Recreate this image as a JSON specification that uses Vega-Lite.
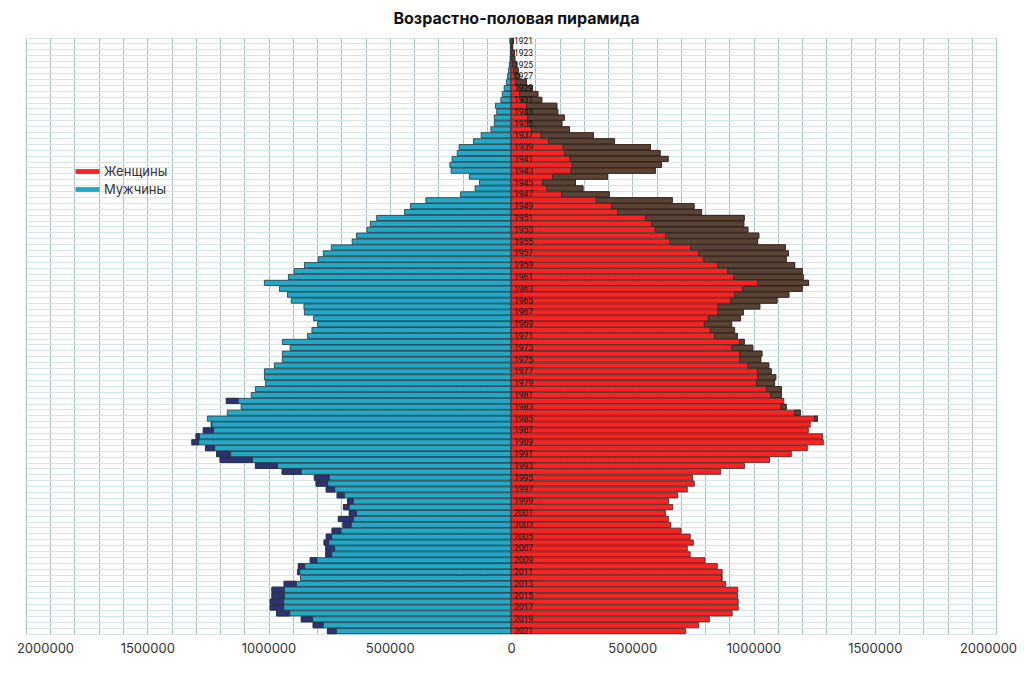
{
  "$schema": "https://vega.github.io/schema/vega-lite/v6.json",
  "background": "white",
  "padding": {"left": 16, "top": 10, "right": 7, "bottom": 20},
  "title": {"text": "Возрастно-половая пирамида", "font": "Inter", "fontSize": 16, "fontWeight": "bold", "color": "#111111", "offset": 10, "anchor": "middle"},
  "data": {
    "values": [
      {"year": 1921, "men": 5000, "women": 10000},
      {"year": 1922, "men": 3000, "women": 7000},
      {"year": 1923, "men": 3000, "women": 14000},
      {"year": 1924, "men": 4000, "women": 16000},
      {"year": 1925, "men": 7000, "women": 24000},
      {"year": 1926, "men": 10000, "women": 30000},
      {"year": 1927, "men": 14000, "women": 36000},
      {"year": 1928, "men": 19000, "women": 64000},
      {"year": 1929, "men": 28000, "women": 88000},
      {"year": 1930, "men": 36000, "women": 111000},
      {"year": 1931, "men": 42000, "women": 127000},
      {"year": 1932, "men": 64000, "women": 189000},
      {"year": 1933, "men": 59000, "women": 193000},
      {"year": 1934, "men": 69000, "women": 220000},
      {"year": 1935, "men": 69000, "women": 210000},
      {"year": 1936, "men": 83000, "women": 241000},
      {"year": 1937, "men": 123000, "women": 340000},
      {"year": 1938, "men": 155000, "women": 427000},
      {"year": 1939, "men": 214000, "women": 575000},
      {"year": 1940, "men": 222000, "women": 615000},
      {"year": 1941, "men": 243000, "women": 648000},
      {"year": 1942, "men": 252000, "women": 620000},
      {"year": 1943, "men": 247000, "women": 595000},
      {"year": 1944, "men": 172000, "women": 398000},
      {"year": 1945, "men": 130000, "women": 266000},
      {"year": 1946, "men": 148000, "women": 297000},
      {"year": 1947, "men": 208000, "women": 405000},
      {"year": 1948, "men": 351000, "women": 665000},
      {"year": 1949, "men": 415000, "women": 755000},
      {"year": 1950, "men": 439000, "women": 786000},
      {"year": 1951, "men": 554000, "women": 962000},
      {"year": 1952, "men": 580000, "women": 960000},
      {"year": 1953, "men": 594000, "women": 977000},
      {"year": 1954, "men": 637000, "women": 1022000},
      {"year": 1955, "men": 655000, "women": 1017000},
      {"year": 1956, "men": 741000, "women": 1132000},
      {"year": 1957, "men": 774000, "women": 1144000},
      {"year": 1958, "men": 795000, "women": 1135000},
      {"year": 1959, "men": 852000, "women": 1170000},
      {"year": 1960, "men": 894000, "women": 1201000},
      {"year": 1961, "men": 918000, "women": 1205000},
      {"year": 1962, "men": 1017000, "women": 1227000},
      {"year": 1963, "men": 955000, "women": 1201000},
      {"year": 1964, "men": 922000, "women": 1146000},
      {"year": 1965, "men": 906000, "women": 1097000},
      {"year": 1966, "men": 854000, "women": 1026000},
      {"year": 1967, "men": 852000, "women": 958000},
      {"year": 1968, "men": 814000, "women": 946000},
      {"year": 1969, "men": 797000, "women": 910000},
      {"year": 1970, "men": 821000, "women": 922000},
      {"year": 1971, "men": 839000, "women": 934000},
      {"year": 1972, "men": 943000, "women": 962000},
      {"year": 1973, "men": 911000, "women": 997000},
      {"year": 1974, "men": 943000, "women": 1035000},
      {"year": 1975, "men": 943000, "women": 1030000},
      {"year": 1976, "men": 976000, "women": 1063000},
      {"year": 1977, "men": 1017000, "women": 1073000},
      {"year": 1978, "men": 1017000, "women": 1092000},
      {"year": 1979, "men": 1012000, "women": 1087000},
      {"year": 1980, "men": 1054000, "women": 1115000},
      {"year": 1981, "men": 1071000, "women": 1115000},
      {"year": 1982, "men": 1174000, "women": 1125000},
      {"year": 1983, "men": 1113000, "women": 1135000},
      {"year": 1984, "men": 1170000, "women": 1193000},
      {"year": 1985, "men": 1252000, "women": 1264000},
      {"year": 1986, "men": 1236000, "women": 1234000},
      {"year": 1987, "men": 1269000, "women": 1226000},
      {"year": 1988, "men": 1299000, "women": 1285000},
      {"year": 1989, "men": 1316000, "women": 1288000},
      {"year": 1990, "men": 1260000, "women": 1222000},
      {"year": 1991, "men": 1214000, "women": 1156000},
      {"year": 1992, "men": 1200000, "women": 1066000},
      {"year": 1993, "men": 1054000, "women": 963000},
      {"year": 1994, "men": 944000, "women": 865000},
      {"year": 1995, "men": 811000, "women": 749000},
      {"year": 1996, "men": 804000, "women": 756000},
      {"year": 1997, "men": 762000, "women": 727000},
      {"year": 1998, "men": 717000, "women": 687000},
      {"year": 1999, "men": 674000, "women": 650000},
      {"year": 2000, "men": 691000, "women": 667000},
      {"year": 2001, "men": 667000, "women": 637000},
      {"year": 2002, "men": 712000, "women": 649000},
      {"year": 2003, "men": 693000, "women": 659000},
      {"year": 2004, "men": 738000, "women": 701000},
      {"year": 2005, "men": 762000, "women": 739000},
      {"year": 2006, "men": 771000, "women": 752000},
      {"year": 2007, "men": 764000, "women": 727000},
      {"year": 2008, "men": 764000, "women": 739000},
      {"year": 2009, "men": 828000, "women": 800000},
      {"year": 2010, "men": 877000, "women": 851000},
      {"year": 2011, "men": 880000, "women": 871000},
      {"year": 2012, "men": 868000, "women": 870000},
      {"year": 2013, "men": 936000, "women": 885000},
      {"year": 2014, "men": 986000, "women": 935000},
      {"year": 2015, "men": 986000, "women": 934000},
      {"year": 2016, "men": 993000, "women": 937000},
      {"year": 2017, "men": 993000, "women": 937000},
      {"year": 2018, "men": 967000, "women": 912000},
      {"year": 2019, "men": 865000, "women": 818000},
      {"year": 2020, "men": 816000, "women": 774000},
      {"year": 2021, "men": 757000, "women": 720000}
    ]
  },
  "spacing": 0,
  "bounds": "flush",
  "resolve": {"scale": {"x": "independent", "y": "shared"}},
  "hconcat": [
    {
      "width": 485,
      "height": 596,
      "encoding": {
        "y": {
          "field": "year", "type": "ordinal", "title": null,
          "axis": {"orient": "left", "labels": false, "ticks": false, "domain": false, "grid": true, "tickBand": "extent"}
        }
      },
      "layer": [
        {
          "mark": {"type": "bar", "stroke": "#26343a", "strokeWidth": 0.8},
          "encoding": {
            "x": {
              "field": "men", "type": "quantitative", "title": null,
              "scale": {"domain": [0, 2000000], "reverse": true, "nice": false},
              "axis": {
                "values": [0, 100000, 200000, 300000, 400000, 500000, 600000, 700000, 800000, 900000, 1000000, 1100000, 1200000, 1300000, 1400000, 1500000, 1600000, 1700000, 1800000, 1900000, 2000000],
                "format": "d",
                "labelExpr": "datum.value % 500000 === 0 && datum.value > 0 ? datum.label : ''",
                "labelOffset": {"condition": {"test": "datum.value === 2000000", "value": 19}, "value": 0}
              }
            },
            "color": {"datum": "Мужчины", "scale": {"domain": ["Женщины", "Мужчины"], "range": ["#ff2020", "#20a9c8"]}}
          }
        },
        {
          "transform": [{"filter": "datum.men > datum.women"}],
          "mark": {"type": "bar", "color": "#2c3178", "stroke": "#26343a", "strokeWidth": 0.8},
          "encoding": {
            "x": {
              "field": "men", "type": "quantitative",
              "axis": {
                "values": [0, 100000, 200000, 300000, 400000, 500000, 600000, 700000, 800000, 900000, 1000000, 1100000, 1200000, 1300000, 1400000, 1500000, 1600000, 1700000, 1800000, 1900000, 2000000],
                "format": "d",
                "labelExpr": "datum.value % 500000 === 0 && datum.value > 0 ? datum.label : ''",
                "labelOffset": {"condition": {"test": "datum.value === 2000000", "value": 19}, "value": 0}
              }
            },
            "x2": {"field": "women"}
          }
        }
      ]
    },
    {
      "width": 485,
      "height": 596,
      "encoding": {
        "y": {
          "field": "year", "type": "ordinal", "title": null,
          "axis": {"orient": "right", "labels": false, "ticks": false, "domain": false, "grid": true, "tickBand": "extent"}
        }
      },
      "layer": [
        {
          "mark": {"type": "bar", "stroke": "#3a2a26", "strokeWidth": 0.8},
          "encoding": {
            "x": {
              "field": "women", "type": "quantitative", "title": null,
              "scale": {"domain": [0, 2000000], "nice": false},
              "axis": {
                "values": [0, 100000, 200000, 300000, 400000, 500000, 600000, 700000, 800000, 900000, 1000000, 1100000, 1200000, 1300000, 1400000, 1500000, 1600000, 1700000, 1800000, 1900000, 2000000],
                "format": "d",
                "labelExpr": "datum.value % 500000 === 0 ? datum.label : ''",
                "labelOffset": {"condition": {"test": "datum.value === 2000000", "value": -8}, "value": 0}
              }
            },
            "color": {"datum": "Женщины"}
          }
        },
        {
          "transform": [{"filter": "datum.women > datum.men"}],
          "mark": {"type": "bar", "color": "#5a4235", "stroke": "#2e2420", "strokeWidth": 0.8},
          "encoding": {
            "x": {
              "field": "women", "type": "quantitative",
              "axis": {
                "values": [0, 100000, 200000, 300000, 400000, 500000, 600000, 700000, 800000, 900000, 1000000, 1100000, 1200000, 1300000, 1400000, 1500000, 1600000, 1700000, 1800000, 1900000, 2000000],
                "format": "d",
                "labelExpr": "datum.value % 500000 === 0 ? datum.label : ''",
                "labelOffset": {"condition": {"test": "datum.value === 2000000", "value": -8}, "value": 0}
              }
            },
            "x2": {"field": "men"}
          }
        },
        {
          "transform": [{"filter": "datum.year % 2 === 1"}],
          "mark": {"type": "text", "align": "left", "baseline": "middle", "dx": 3, "font": "Roboto", "fontSize": 8.5, "color": "#111111"},
          "encoding": {
            "x": {
              "datum": 0, "type": "quantitative",
              "axis": {
                "values": [0, 100000, 200000, 300000, 400000, 500000, 600000, 700000, 800000, 900000, 1000000, 1100000, 1200000, 1300000, 1400000, 1500000, 1600000, 1700000, 1800000, 1900000, 2000000],
                "format": "d",
                "labelExpr": "datum.value % 500000 === 0 ? datum.label : ''",
                "labelOffset": {"condition": {"test": "datum.value === 2000000", "value": -8}, "value": 0}
              }
            },
            "text": {"field": "year", "type": "nominal"}
          }
        }
      ]
    }
  ],
  "config": {
    "view": {"stroke": null},
    "font": "Inter",
    "scale": {"bandPaddingInner": 0.12, "bandPaddingOuter": 0.05},
    "axisX": {
      "grid": true, "gridColor": "#a6c4c8", "gridWidth": 1,
      "domain": false, "ticks": false, "labelOverlap": false, "labelFlush": false,
      "labelFont": "Inter", "labelFontSize": 13, "labelColor": "#333333", "labelPadding": 8
    },
    "axisY": {"gridColor": "#d8e5e7", "gridWidth": 1},
    "legend": {
      "orient": "none", "legendX": 55, "legendY": 127, "title": null,
      "symbolType": "M-2,-0.4H2V0.4H-2Z", "symbolSize": 144, "symbolStrokeWidth": 0,
      "labelOffset": 10, "labelFont": "Inter", "labelFontSize": 13, "labelColor": "#333333",
      "rowPadding": 4
    }
  }
}
